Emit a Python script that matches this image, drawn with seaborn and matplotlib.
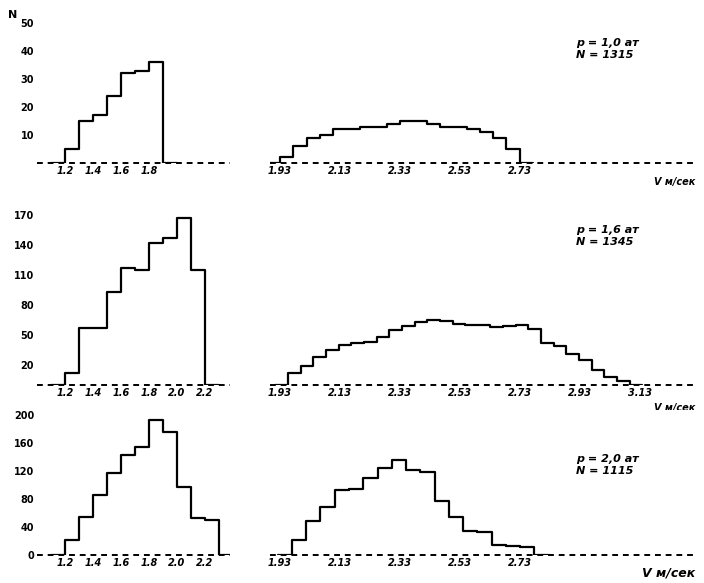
import numpy as np
import pandas as pd
import seaborn as sns
import matplotlib.pyplot as plt

# =========================
# Data (counts per velocity bin)
# =========================
row1_left_counts = [5, 15, 17, 24, 32, 33, 36]
row1_right_counts = [2, 6, 9, 10, 12, 12, 13, 13, 14, 15, 15, 14, 13, 13, 12, 11, 9, 5]

row2_left_counts = [12, 57, 57, 93, 117, 115, 142, 147, 167, 115]
row2_right_counts = [12, 19, 28, 35, 40, 42, 43, 48, 55, 59, 63, 65, 64, 61,
                     60, 60, 58, 59, 60, 56, 42, 39, 31, 25, 15, 8, 4]

row3_left_counts = [21, 54, 86, 117, 143, 154, 193, 176, 97, 53, 50]
row3_right_counts = [21, 49, 69, 93, 94, 110, 124, 136, 121, 119, 77, 54, 34, 33, 14, 13, 11]

# bin start / width (plot units)
left_start, left_width = 2.0, 1.0
right_bins = {1: (0.75, 1.0), 2: (1.35, 0.95), 3: (1.65, 1.07)}

left_tick_pos = [2, 4, 6, 8, 10, 12]
left_tick_labels = ['1.2', '1.4', '1.6', '1.8', '2.0', '2.2']
right_tick_pos = [0.75, 5.25, 9.75, 14.25, 18.75, 23.25, 27.75]
right_tick_labels = ['1.93', '2.13', '2.33', '2.53', '2.73', '2.93', '3.13']

row_yticks = {1: [10, 20, 30, 40, 50],
              2: [20, 50, 80, 110, 140, 170],
              3: [0, 40, 80, 120, 160, 200]}
row_ylim = {1: 54.6, 2: 195, 3: 207}

legend_text = {1: 'p = 1,0 ат\nN = 1315',
               2: 'p = 1,6 ат\nN = 1345',
               3: 'p = 2,0 ат\nN = 1115'}

W, H = 704, 583
fig = plt.figure(figsize=(W / 100, H / 100), dpi=100)
sns.set_style('white')
plt.rcParams['font.family'] = ['DejaVu Sans']
plt.rcParams['text.color'] = 'black'
plt.rcParams['xtick.color'] = 'black'
plt.rcParams['ytick.color'] = 'black'


def px_axes(x0, y0, x1, y1):
    # pixel box -> figure axes
    return fig.add_axes([x0 / W, 1 - y1 / H, (x1 - x0) / W, (y1 - y0) / H])


def draw_hist(ax, counts, start, width):
    # empty bin on each side so the outline drops to the baseline
    counts = [0] + list(counts) + [0]
    n = len(counts)
    edges = (start - width) + width * np.arange(n + 1)
    df = pd.DataFrame({'v': (edges[:-1] + edges[1:]) / 2, 'n': counts})
    sns.histplot(data=df, x='v', weights='n', bins=list(edges), element='step', fill=False,
                 color='black', linewidth=1.6, ax=ax)
    ax.set_xlabel('')
    ax.set_ylabel('')


rows = {1: (10, 163), 2: (190, 385), 3: (410, 555)}
left_data = {1: row1_left_counts, 2: row2_left_counts, 3: row3_left_counts}
right_data = {1: row1_right_counts, 2: row2_right_counts, 3: row3_right_counts}
n_right_ticks = {1: 5, 2: 7, 3: 5}

for r, (top, base) in rows.items():
    axl = px_axes(37, top, 230, base)
    axr = px_axes(270, top, 695, base)

    # baseline first, histogram on top
    for ax in (axl, axr):
        ax.axhline(0, color='black', lw=1.4, ls=(0, (3, 2.5)), clip_on=False)

    draw_hist(axl, left_data[r], left_start, left_width)
    s, w = right_bins[r]
    draw_hist(axr, right_data[r], s, w)

    for ax in (axl, axr):
        for sp in ax.spines.values():
            sp.set_visible(False)
        ax.set_ylim(0, row_ylim[r])
        ax.tick_params(length=0, pad=2, labelsize=7, colors='black')

    axl.set_xlim(0, 13.8)
    axr.set_xlim(0, 31.9)

    k = 4 if r == 1 else 6
    axl.set_xticks(left_tick_pos[:k])
    axl.set_xticklabels(left_tick_labels[:k], fontsize=7, fontweight='bold', style='italic')
    axr.set_xticks(right_tick_pos[:n_right_ticks[r]])
    axr.set_xticklabels(right_tick_labels[:n_right_ticks[r]], fontsize=7,
                        fontweight='bold', style='italic')

    axl.set_yticks(row_yticks[r])
    axl.set_yticklabels([str(v) for v in row_yticks[r]], fontsize=7, fontweight='bold')
    axr.set_yticks([])

    axr.text(0.72, 0.82 if r != 3 else 0.70, legend_text[r], transform=axr.transAxes,
             fontsize=8, fontweight='bold', style='italic', va='top', linespacing=1.3,
             color='black')

    lab_size = 9 if r == 3 else 7
    axr.text(1.0, -0.09 if r != 3 else -0.08, 'V м/сек', transform=axr.transAxes,
             fontsize=lab_size, fontweight='bold', style='italic', ha='right', va='top',
             color='black')

fig.text(8 / W, 1 - 15 / H, 'N', fontsize=8, fontweight='bold', va='center', color='black')

fig.savefig('out.png', dpi=100, facecolor='white')
